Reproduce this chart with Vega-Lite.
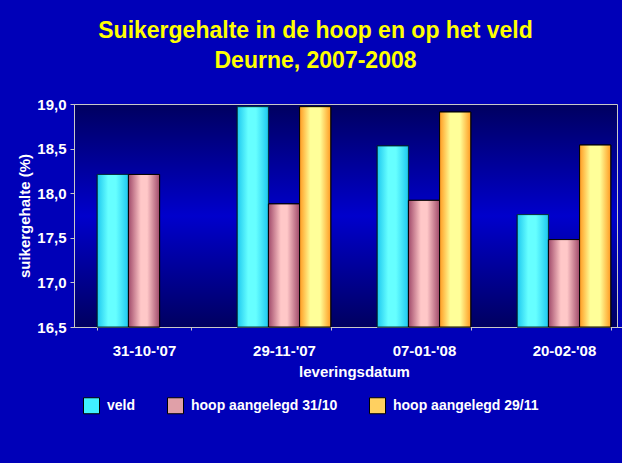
{
  "$schema": "https://vega.github.io/schema/vega-lite/v6.json",
  "autosize": {"type": "none"},
  "width": 543,
  "height": 223,
  "padding": {"left": 74, "top": 104, "right": 5, "bottom": 136},
  "background": "#0000b8",
  "title": {
    "text": ["Suikergehalte in de hoop en op het veld", "Deurne, 2007-2008"],
    "color": "#ffff00",
    "font": "Liberation Sans",
    "fontSize": 23,
    "fontWeight": "bold",
    "anchor": "middle",
    "dx": -30,
    "offset": 24,
    "lineHeight": 30
  },
  "view": {
    "fill": {
      "gradient": "linear", "x1": 0, "y1": 0, "x2": 0, "y2": 1,
      "stops": [
        {"offset": 0, "color": "#000060"},
        {"offset": 0.5, "color": "#0000cc"},
        {"offset": 1, "color": "#000060"}
      ]
    },
    "stroke": "#c8c8c8",
    "strokeWidth": 1
  },
  "config": {
    "font": "Liberation Sans",
    "axis": {
      "labelFont": "Liberation Sans", "labelFontSize": 15, "labelFontWeight": "bold", "labelColor": "#ffffff",
      "titleFont": "Liberation Sans", "titleFontSize": 15, "titleFontWeight": "bold", "titleColor": "#ffffff",
      "domainColor": "#c8c8c8", "tickColor": "#c8c8c8", "grid": false
    },
    "legend": {
      "labelFont": "Liberation Sans", "labelFontSize": 14, "labelFontWeight": "bold", "labelColor": "#ffffff"
    }
  },
  "data": {
    "values": [
      {"datum_label": "31-10-'07", "series": "veld", "value": 18.21},
      {"datum_label": "31-10-'07", "series": "hoop aangelegd 31/10", "value": 18.21},
      {"datum_label": "29-11-'07", "series": "veld", "value": 18.97},
      {"datum_label": "29-11-'07", "series": "hoop aangelegd 31/10", "value": 17.88},
      {"datum_label": "29-11-'07", "series": "hoop aangelegd 29/11", "value": 18.97},
      {"datum_label": "07-01-'08", "series": "veld", "value": 18.53},
      {"datum_label": "07-01-'08", "series": "hoop aangelegd 31/10", "value": 17.92},
      {"datum_label": "07-01-'08", "series": "hoop aangelegd 29/11", "value": 18.91},
      {"datum_label": "20-02-'08", "series": "veld", "value": 17.76},
      {"datum_label": "20-02-'08", "series": "hoop aangelegd 31/10", "value": 17.48},
      {"datum_label": "20-02-'08", "series": "hoop aangelegd 29/11", "value": 18.54}
    ]
  },
  "encoding": {
    "x": {
      "field": "datum_label", "type": "nominal", "sort": null,
      "scale": {"range": [0, 560], "paddingInner": 0.332, "paddingOuter": 0.166},
      "axis": {"title": "leveringsdatum", "labelAngle": 0, "labelPadding": 13, "titlePadding": 6, "tickBand": "extent", "tickSize": 3}
    },
    "xOffset": {
      "field": "series", "type": "nominal",
      "scale": {"domain": ["veld", "hoop aangelegd 31/10", "hoop aangelegd 29/11"], "paddingInner": 0, "paddingOuter": 0}
    },
    "y": {
      "field": "value", "type": "quantitative",
      "scale": {"domain": [16.5, 19], "zero": false, "nice": false},
      "axis": {
        "title": "suikergehalte (%)",
        "values": [16.5, 17, 17.5, 18, 18.5, 19],
        "labelExpr": "replace(format(datum.value, '.1f'), '.', ',')",
        "tickSize": 4, "labelPadding": 4, "titlePadding": 4
      }
    },
    "y2": {"datum": 16.5}
  },
  "layer": [
    {
      "mark": {"type": "bar", "stroke": "#000000", "strokeWidth": 1},
      "encoding": {
        "color": {
          "field": "series", "type": "nominal",
          "scale": {
            "domain": ["veld", "hoop aangelegd 31/10", "hoop aangelegd 29/11"],
            "range": ["#40f0ff", "#e0a0a8", "#ffd060"]
          },
          "legend": {
            "title": null, "orient": "none", "direction": "horizontal",
            "legendX": 9, "legendY": 293,
            "symbolType": "square", "symbolSize": 256,
            "symbolStrokeColor": "#000000", "symbolStrokeWidth": 1, "symbolOpacity": 1,
            "labelOffset": 7, "columnPadding": 29
          }
        }
      }
    },
    {
      "transform": [{"filter": "datum.series == 'veld'"}],
      "mark": {
        "type": "bar", "stroke": "#003040", "strokeWidth": 1,
        "fill": {
          "gradient": "linear", "x1": 0, "y1": 0, "x2": 1, "y2": 0,
          "stops": [
            {"offset": 0, "color": "#1ec8f0"},
            {"offset": 0.35, "color": "#66ffff"},
            {"offset": 0.6, "color": "#66ffff"},
            {"offset": 1, "color": "#1ec8f0"}
          ]
        }
      }
    },
    {
      "transform": [{"filter": "datum.series == 'hoop aangelegd 31/10'"}],
      "mark": {
        "type": "bar", "stroke": "#000000", "strokeWidth": 1,
        "fill": {
          "gradient": "linear", "x1": 0, "y1": 0, "x2": 1, "y2": 0,
          "stops": [
            {"offset": 0, "color": "#a04a6a"},
            {"offset": 0.4, "color": "#ffc8c8"},
            {"offset": 0.6, "color": "#ffc8c8"},
            {"offset": 1, "color": "#a04a6a"}
          ]
        }
      }
    },
    {
      "transform": [{"filter": "datum.series == 'hoop aangelegd 29/11'"}],
      "mark": {
        "type": "bar", "stroke": "#000000", "strokeWidth": 1,
        "fill": {
          "gradient": "linear", "x1": 0, "y1": 0, "x2": 1, "y2": 0,
          "stops": [
            {"offset": 0, "color": "#ff9a20"},
            {"offset": 0.35, "color": "#ffff99"},
            {"offset": 0.65, "color": "#ffff99"},
            {"offset": 1, "color": "#ff9a20"}
          ]
        }
      }
    }
  ]
}
